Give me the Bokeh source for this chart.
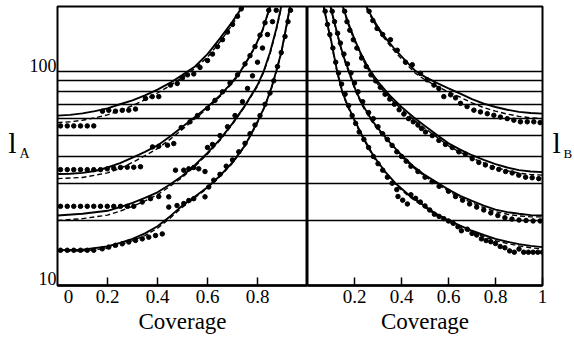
from bokeh.plotting import figure
from bokeh.layouts import row
from bokeh.models import FixedTicker, LogAxis, Range1d
from bokeh.embed import file_html
from bokeh.resources import INLINE

FONT = "Liberation Serif"
Y_MIN, Y_MAX = 10, 200
GRID_VALUES = [20, 30, 40, 50, 60, 70, 80, 90, 100]
Y_TICK_LABELS = ["10", "100"]
LEFT_TICKS = [0.2, 0.4, 0.6, 0.8]
LEFT_TICK_LABELS = ["0", "0.2", "0.4", "0.6", "0.8"]
RIGHT_TICKS = [0.2, 0.4, 0.6, 0.8, 1.0]
RIGHT_TICK_LABELS = ["0.2", "0.4", "0.6", "0.8", "1"]
X_LABEL = "Coverage"
Y_NAME_LEFT = ("l", "A")
Y_NAME_RIGHT = ("l", "B")

# label positions (where the printed labels sit, not data)
Y_TICK_LABEL_POS = [10.8, 106.5]
ZERO_LABEL_POS = 0.044
NAME_POS = 46.6
SUB_POS = 41.4

# ---------------- left panel (l_A) ----------------
L1_c = [0, 0.05, 0.1, 0.15, 0.2, 0.25, 0.3, 0.35, 0.4, 0.45, 0.5, 0.55, 0.6, 0.65, 0.7, 0.74, 0.76]
L1 = [62, 62.5, 63.5, 65, 67, 70, 73, 77, 82, 88, 96, 105, 120, 142, 170, 200, 220]
L2_c = [0, 0.05, 0.1, 0.15, 0.2, 0.25, 0.3, 0.35, 0.4, 0.45, 0.5, 0.55, 0.6, 0.65, 0.7, 0.73, 0.76, 0.79, 0.82, 0.85, 0.87]
L2 = [33.1, 33.2, 33.5, 34.2, 35.5, 37.2, 39.5, 42, 45, 49.5, 55, 61, 68, 77, 89, 99, 113, 130, 155, 200, 235]
L3_c = [0, 0.1, 0.2, 0.25, 0.3, 0.35, 0.4, 0.45, 0.5, 0.55, 0.6, 0.65, 0.7, 0.75, 0.8, 0.825, 0.85, 0.875, 0.895, 0.91]
L3 = [21.2, 21.6, 22.3, 23.2, 24.3, 25.6, 27.2, 29.6, 32.5, 36.5, 41.5, 48, 57, 69, 86, 100, 122, 157, 200, 240]
L4_c = [0, 0.1, 0.2, 0.25, 0.3, 0.35, 0.4, 0.45, 0.5, 0.55, 0.6, 0.65, 0.7, 0.75, 0.8, 0.83, 0.855, 0.875, 0.895, 0.91, 0.93, 0.94]
L4 = [14.6, 14.7, 15.2, 15.8, 16.5, 17.5, 18.9, 21, 23.6, 26, 28.7, 32.5, 37.5, 45, 58, 69, 83, 100, 122, 150, 200, 235]

LD1_c = [0, 0.05, 0.1, 0.15, 0.2, 0.25, 0.3, 0.35, 0.4, 0.45, 0.5, 0.55, 0.6, 0.65, 0.7, 0.745, 0.76]
LD1 = [57.5, 58, 59, 60.5, 62.5, 65.5, 69, 73.5, 79, 85.5, 93.5, 103, 116, 137, 165, 200, 215]
LD2_c = [0, 0.1, 0.2, 0.25, 0.3, 0.35, 0.4, 0.45, 0.5, 0.55, 0.6, 0.65, 0.7, 0.73, 0.76, 0.79, 0.82, 0.85, 0.87]
LD2 = [31.5, 31.9, 33.5, 35.2, 37.5, 40.3, 43.5, 48, 53.5, 60, 67, 76, 88, 98, 112, 129, 154, 198, 232]
LD3_c = [0, 0.1, 0.2, 0.25, 0.3, 0.35, 0.4, 0.45, 0.5, 0.55, 0.6, 0.65, 0.7, 0.75, 0.8, 0.825, 0.85, 0.875, 0.895, 0.91]
LD3 = [20.1, 20.5, 21.3, 22.2, 23.4, 24.8, 26.5, 29, 32, 36, 41, 47.5, 56.5, 68.5, 85, 99, 120, 155, 197, 235]
LD4_c = [0, 0.1, 0.2, 0.25, 0.3, 0.35, 0.4, 0.45, 0.5, 0.55, 0.6, 0.65, 0.7, 0.75, 0.8, 0.83, 0.855, 0.875, 0.895, 0.91, 0.93, 0.94]
LD4 = [14.4, 14.5, 14.9, 15.5, 16.2, 17.1, 18.5, 20.6, 23.2, 25.7, 28.4, 32.2, 37.2, 44.7, 57.5, 68.5, 82.5, 99, 121, 148, 197, 232]

LEFT_DOT_c = [
    0.012, 0.039, 0.065, 0.092, 0.119, 0.145, 0.18, 0.205, 0.232, 0.259, 0.285, 0.312,
    0.352, 0.379, 0.405, 0.452, 0.479, 0.5, 0.52, 0.545, 0.57, 0.6, 0.62, 0.64, 0.66, 0.68, 0.7, 0.72, 0.735,
    0.012, 0.039, 0.065, 0.092, 0.119, 0.145, 0.172, 0.199, 0.225, 0.252, 0.279, 0.305, 0.332,
    0.38, 0.405, 0.44, 0.465, 0.495, 0.53, 0.56, 0.6, 0.63, 0.66, 0.69, 0.72, 0.75, 0.77, 0.79, 0.81, 0.83, 0.845,
    0.012, 0.039, 0.065, 0.092, 0.119, 0.145, 0.172, 0.199, 0.225, 0.252, 0.279, 0.305,
    0.339, 0.372, 0.405, 0.445, 0.472, 0.505, 0.525, 0.545, 0.565, 0.59, 0.6, 0.62, 0.65, 0.68, 0.71,
    0.74, 0.76, 0.78, 0.8, 0.82, 0.84, 0.86, 0.875,
    0.012, 0.039, 0.065, 0.092, 0.119, 0.145, 0.179, 0.205, 0.232, 0.259, 0.285, 0.312, 0.339, 0.365,
    0.392, 0.419, 0.445, 0.478, 0.505, 0.525, 0.545, 0.59, 0.605, 0.625, 0.65, 0.675, 0.7, 0.725, 0.75,
    0.77, 0.79, 0.81, 0.83, 0.85, 0.865, 0.88, 0.895, 0.91, 0.922, 0.932,
]
LEFT_DOT_l = [
    55.5, 55.5, 55.5, 55.5, 55.5, 55.5, 65, 65.6, 65, 65.6, 65.7, 66.5,
    74.5, 76, 76, 86, 87.5, 93, 96, 97, 104, 112, 120, 130, 140, 152, 165, 180, 195,
    34.7, 34.7, 34.7, 34.7, 34.7, 34.7, 34.7, 35, 35.2, 35.5, 35.6, 35.6, 35.8,
    44.3, 44.6, 45.1, 45.9, 54.5, 58, 62, 67, 73, 80, 88, 96, 108, 118, 130, 147, 168, 192,
    23.4, 23.4, 23.4, 23.4, 23.4, 23.4, 23.4, 23.4, 23.4, 23.4, 23.4, 23.4,
    24.5, 25.4, 26, 25.9, 34.5, 34.5, 35, 35.5, 35, 34, 44, 45.5, 50, 55, 62,
    72, 83, 95, 110, 128, 148, 170, 192,
    14.6, 14.6, 14.6, 14.6, 14.6, 14.6, 14.83, 15.1, 15.4, 15.65, 15.95, 16.23, 16.5, 16.8,
    17.1, 17.4, 23.2, 23.6, 24.1, 24.9, 25.4, 25.9, 28.8, 31, 33, 36, 38.5, 42, 46,
    51, 56, 62, 70, 79, 90, 105, 122, 145, 170, 192,
]

# ---------------- right panel (l_B) ----------------
R1_c = [0.24, 0.25, 0.275, 0.3, 0.325, 0.35, 0.375, 0.4, 0.43, 0.46, 0.5, 0.55, 0.6, 0.65, 0.7, 0.75, 0.8, 0.85, 0.9, 0.95, 1.0]
R1 = [215, 200, 178, 160, 146, 135, 125, 117, 108, 100, 94, 88, 83, 78.5, 74, 70.5, 68, 66, 64.5, 63.7, 63.3]
RD1 = [212, 197, 175, 157, 143, 132, 122, 114, 105, 97.5, 91, 85, 80, 75.5, 71, 67.5, 65, 63, 61.5, 60.5, 60]
R2_c = [0.14, 0.15, 0.175, 0.2, 0.225, 0.25, 0.268, 0.3, 0.35, 0.4, 0.45, 0.5, 0.55, 0.6, 0.65, 0.7, 0.75, 0.8, 0.85, 0.9, 0.95, 1.0]
R2 = [215, 200, 166, 141, 122, 108, 100, 89, 77, 68, 61, 55.5, 50.5, 46, 43, 40.5, 38.5, 36.8, 35.5, 34.5, 34, 33.8]
RD2 = [212, 197, 163, 138, 119, 105.5, 97.5, 86.5, 75, 66.3, 59.5, 54, 49.2, 44.8, 41.8, 39.3, 37.3, 35.6, 34.3, 33.4, 32.9, 32.7]
R3_c = [0.09, 0.098, 0.115, 0.13, 0.15, 0.176, 0.204, 0.233, 0.27, 0.3, 0.35, 0.4, 0.45, 0.5, 0.55, 0.6, 0.65, 0.7, 0.75, 0.8, 0.85, 0.9, 0.95, 1.0]
R3 = [220, 200, 168, 145, 120, 100, 82, 70, 60, 54, 46.5, 40.5, 36, 32.7, 30.3, 28, 26.2, 24.8, 23.6, 22.6, 22, 21.6, 21.3, 21.2]
RD3 = [218, 198, 166, 143, 118, 98.5, 80.7, 69, 59, 53, 45.8, 39.9, 35.5, 32.2, 29.8, 27.5, 25.7, 24.3, 23.1, 22.1, 21.5, 21.1, 20.9, 20.9]
R4_c = [0.062, 0.069, 0.085, 0.1, 0.113, 0.126, 0.148, 0.169, 0.197, 0.233, 0.282, 0.33, 0.374, 0.43, 0.5, 0.55, 0.6, 0.65, 0.7, 0.75, 0.8, 0.85, 0.9, 0.95, 1.0]
R4 = [225, 200, 165, 140, 118, 100, 80, 70, 60, 50, 40, 34, 30, 26.5, 23.4, 21.5, 20.1, 19, 18, 17.2, 16.5, 16, 15.6, 15.3, 15.1]
RD4 = [222, 198, 163, 138, 116, 98.5, 79, 69, 59, 49.3, 39.5, 33.5, 29.6, 26.1, 23.1, 21.2, 19.8, 18.7, 17.7, 16.9, 16.2, 15.7, 15.3, 15, 14.8]

RIGHT_DOT_c = [
    0.262, 0.278, 0.296, 0.32, 0.353, 0.382, 0.417, 0.446, 0.481, 0.509, 0.538, 0.559, 0.58, 0.609,
    0.63, 0.651, 0.679, 0.708, 0.736, 0.765, 0.793, 0.821, 0.85, 0.878, 0.906, 0.935, 0.963, 0.99,
    0.158, 0.168, 0.18, 0.195, 0.21, 0.23, 0.25, 0.27, 0.29, 0.31, 0.33, 0.35, 0.37, 0.39, 0.41,
    0.43, 0.45, 0.47, 0.485, 0.502, 0.531, 0.559, 0.587, 0.616, 0.644, 0.672, 0.701, 0.729, 0.757,
    0.786, 0.814, 0.843, 0.871, 0.899, 0.928, 0.956, 0.984,
    0.105, 0.115, 0.128, 0.14, 0.155, 0.17, 0.185, 0.2, 0.215, 0.235, 0.26, 0.28, 0.3, 0.32, 0.34,
    0.36, 0.38, 0.4, 0.42, 0.44, 0.47, 0.5, 0.53, 0.56, 0.6, 0.63, 0.66, 0.69, 0.72, 0.75, 0.78,
    0.81, 0.84, 0.87, 0.9, 0.93, 0.96, 0.99,
    0.075, 0.085, 0.095, 0.108, 0.12, 0.132, 0.145, 0.16, 0.175, 0.19, 0.205, 0.22, 0.24, 0.26,
    0.28, 0.3, 0.32, 0.34, 0.36, 0.38, 0.385, 0.405, 0.425, 0.44, 0.46, 0.48, 0.5, 0.52, 0.54, 0.56,
    0.58, 0.6, 0.62, 0.64, 0.655, 0.68, 0.7, 0.72, 0.74, 0.76, 0.78, 0.8, 0.82, 0.84, 0.86, 0.88,
    0.9, 0.92, 0.94, 0.96, 0.98, 1.0,
]
RIGHT_DOT_l = [
    190, 172, 158, 148, 140, 125, 110, 107, 97.5, 91, 86, 83, 76, 77.5,
    75, 70.7, 68.3, 65.7, 64.5, 63.3, 62.2, 61, 60, 59, 58, 58, 58, 57.5,
    190, 170, 155, 140, 128, 115, 105, 96, 90, 84, 78, 74, 70, 66, 63,
    60, 58, 56, 54, 52, 50, 47.5, 45.5, 44, 42, 41, 39, 37.5, 36.5,
    35.5, 34.8, 34, 33.5, 32.7, 32, 31.8, 31.5,
    190, 170, 150, 135, 120, 108, 98, 88, 80, 72, 64, 60, 55, 51, 48,
    45, 42, 40, 38, 36, 34, 32, 30.5, 29, 27.5, 26, 25, 24, 23.2, 22.5, 21.8,
    21.2, 20.7, 20.4, 20.2, 20.1, 20, 20,
    190, 165, 148, 128, 110, 98, 87, 78, 69, 62, 57, 52, 48, 44,
    40, 37, 34.5, 32, 30, 28, 26, 25, 24, 26.5, 25.5, 24.5, 23.5, 22.5, 21.5, 21,
    20.5, 20, 19.5, 18.8, 18, 18.3, 17.5, 17.2, 16.5, 16.2, 16, 15.7, 15.2, 15, 14.5, 14.3,
    14.8, 14.3, 14.3, 14.3, 14.3, 14.3,
]

FRAME_H = 279


def text_axis(pos, label, size, standoff):
    ax = LogAxis(ticker=FixedTicker(ticks=[pos], minor_ticks=[]),
                 major_label_overrides={pos: label})
    ax.axis_line_color = None
    ax.major_tick_line_color = None
    ax.minor_tick_line_color = None
    ax.major_tick_in = 0
    ax.major_tick_out = 0
    ax.major_label_standoff = standoff
    ax.major_label_text_font = FONT
    ax.major_label_text_font_size = size
    ax.major_label_text_color = "black"
    return ax


def make_panel(frame_w, border_left, border_right, tick_pos, minor_pos, tick_labels):
    p = figure(frame_width=frame_w, frame_height=FRAME_H,
               x_range=Range1d(0, 1), y_range=Range1d(Y_MIN, Y_MAX),
               y_axis_type="log", output_backend="svg", toolbar_location=None,
               min_border_left=border_left, min_border_right=border_right,
               min_border_top=6, min_border_bottom=50)
    p.background_fill_color = "white"
    p.border_fill_color = "white"
    p.outline_line_color = "black"
    p.outline_line_width = 2
    p.xgrid.visible = False
    p.ygrid.ticker = FixedTicker(ticks=GRID_VALUES, minor_ticks=[])
    p.ygrid.grid_line_color = "black"
    p.ygrid.grid_line_width = 1.6
    p.ygrid.grid_line_alpha = 1.0
    ax = p.xaxis[0]
    ax.ticker = FixedTicker(ticks=tick_pos, minor_ticks=minor_pos)
    ax.major_label_overrides = {t: s for t, s in zip(tick_pos, tick_labels)}
    ax.major_tick_in = 0
    ax.major_tick_out = 0
    ax.minor_tick_in = 8
    ax.minor_tick_out = 0
    ax.minor_tick_line_width = 1.5
    ax.minor_tick_line_color = "black"
    ax.axis_line_width = 2.5
    ax.major_label_standoff = 4
    ax.major_label_text_font = FONT
    ax.major_label_text_font_size = "19px"
    ax.major_label_text_color = "black"
    ax.axis_label = X_LABEL
    ax.axis_label_text_font = FONT
    ax.axis_label_text_font_size = "23px"
    ax.axis_label_text_font_style = "normal"
    ax.axis_label_text_color = "black"
    ax.axis_label_standoff = 3
    return p


left = make_panel(250, 57, 0, [ZERO_LABEL_POS] + LEFT_TICKS, LEFT_TICKS, LEFT_TICK_LABELS)
right = make_panel(235, 0, 32, RIGHT_TICKS, RIGHT_TICKS, RIGHT_TICK_LABELS)

# left y axis: 10 / 100 labels, then subscript, then the "l"
ya = left.yaxis[0]
ya.ticker = FixedTicker(ticks=Y_TICK_LABEL_POS, minor_ticks=[])
ya.major_label_overrides = {t: s for t, s in zip(Y_TICK_LABEL_POS, Y_TICK_LABELS)}
ya.axis_line_color = None
ya.major_tick_line_color = None
ya.minor_tick_line_color = None
ya.major_tick_in = 0
ya.major_tick_out = 0
ya.major_label_standoff = 1
ya.major_label_text_font = FONT
ya.major_label_text_font_size = "18px"
ya.major_label_text_color = "black"
left.add_layout(text_axis(SUB_POS, Y_NAME_LEFT[1], "14px", -3), "left")
left.add_layout(text_axis(NAME_POS, Y_NAME_LEFT[0], "30px", 0), "left")

right.yaxis.visible = False
right.add_layout(text_axis(NAME_POS, Y_NAME_RIGHT[0], "30px", 10), "right")
right.add_layout(text_axis(SUB_POS, Y_NAME_RIGHT[1], "13px", 0), "right")

for cx, cy in [(L1_c, L1), (L2_c, L2), (L3_c, L3), (L4_c, L4)]:
    left.line(cx, cy, line_color="black", line_width=1.9)
for cx, cy in [(LD1_c, LD1), (LD2_c, LD2), (LD3_c, LD3), (LD4_c, LD4)]:
    left.line(cx, cy, line_color="black", line_width=1.4, line_dash="5 3")
left.scatter(LEFT_DOT_c, LEFT_DOT_l, size=4.5, color="black", marker="circle")

for cx, cy in [(R1_c, R1), (R2_c, R2), (R3_c, R3), (R4_c, R4)]:
    right.line(cx, cy, line_color="black", line_width=1.9)
for cx, cy in [(R1_c, RD1), (R2_c, RD2), (R3_c, RD3), (R4_c, RD4)]:
    right.line(cx, cy, line_color="black", line_width=1.4, line_dash="5 3")
right.scatter(RIGHT_DOT_c, RIGHT_DOT_l, size=4.5, color="black", marker="circle")

layout = row(left, right)
open("out.html", "w").write(file_html(layout, INLINE))
